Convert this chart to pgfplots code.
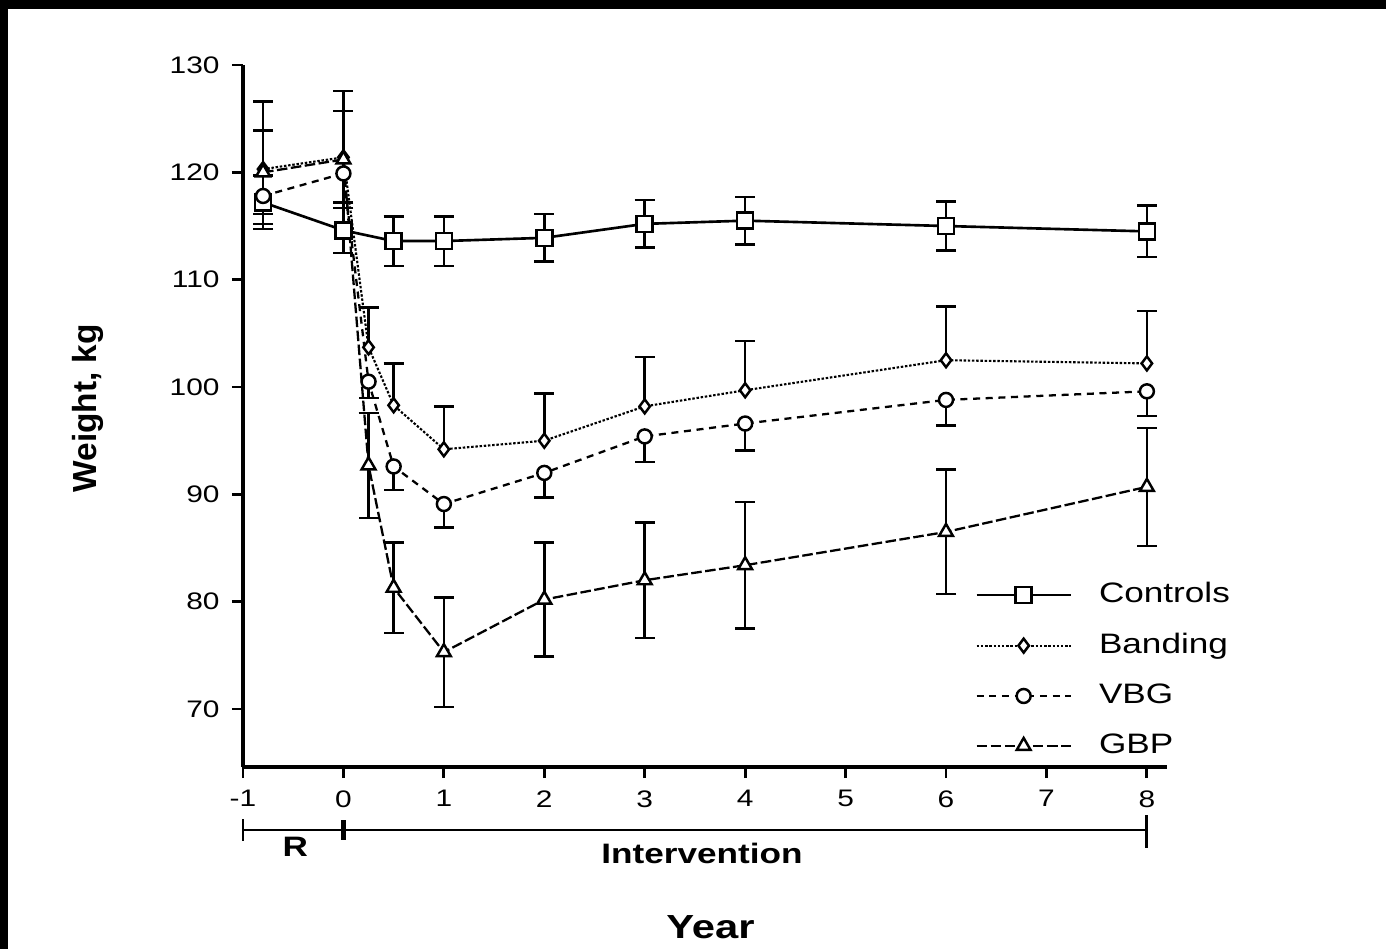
\documentclass[border=0pt]{standalone}
\usepackage{fontspec}
\setmainfont{Liberation Sans}
\newfontfamily\wide{Liberation Sans}[FakeStretch=1.25]
\newfontfamily\plain{Liberation Sans}
\usepackage{pgfplots}
\pgfplotsset{compat=1.18}

\begin{document}
\begin{tikzpicture}
  % page = 1386 x 949 px at 0.01cm per px, axis corner at px (243,767)
  \useasboundingbox (-2.43,-1.82) rectangle (11.43,7.67);
  \begin{axis}[
      scale only axis,
      width=9.24cm, height=7.02cm,
      xmin=-1, xmax=8.2,
      ymin=64.6, ymax=130,
      axis lines*=left,
      axis line style={line width=0.9pt},
      tick align=outside,
      major tick length=0.11cm,
      tick style={line width=0.8pt, black},
      xtick={-1,0,...,8},
      ytick={70,80,...,130},
      /pgf/number format/assume math mode=true,
      tick label style={font=\wide\fontsize{6.8}{8}\selectfont},
      ylabel={Weight, kg},
      ylabel style={font=\plain\bfseries\fontsize{9.5}{11}\selectfont,
                    at={(axis description cs:-0.168,0.511)}, anchor=center},
      xlabel={Year},
      xlabel style={font=\wide\bfseries\fontsize{9.5}{11}\selectfont,
                    at={(axis description cs:0.506,-0.228)}, anchor=center},
      clip=false,
      legend cell align=left,
      legend image code/.code={%
        \draw[mark repeat=2,mark phase=2,#1]
          plot coordinates {(0cm,0cm) (0.47cm,0cm) (0.94cm,0cm)};},
      legend style={at={(axis cs:6.18,83.2)}, anchor=north west,
                    draw=none, fill=none,
                    font=\wide\fontsize{8}{9.6}\selectfont,
                    row sep=0.11cm, column sep=0.2cm},
      every axis plot/.append style={
        error bars/error bar style={line width=0.7pt, solid},
        error bars/error mark options={rotate=90, mark size=0.1cm, line width=0.7pt, solid}},
    ]

    % Controls
    \addplot[black, line width=0.75pt, mark=square*, mark size=0.08cm,
             mark options={fill=white, solid, line width=0.7pt},
             error bars/.cd, y dir=both, y explicit]
      coordinates {
        (-0.8,117.2) +- (0,2.5)
        (0,114.6)    +- (0,2.1)
        (0.5,113.6)  +- (0,2.3)
        (1,113.6)    +- (0,2.3)
        (2,113.9)    +- (0,2.2)
        (3,115.2)    +- (0,2.2)
        (4,115.5)    +- (0,2.2)
        (6,115.0)    +- (0,2.3)
        (8,114.5)    +- (0,2.4)
      };
    \addlegendentry{Controls}

    % Banding
    \addplot[black, line width=0.6pt, dash pattern=on 0.7pt off 0.5pt,
             mark=diamond*, mark size=0.07cm,
             mark options={fill=white, solid, line width=0.7pt},
             error bars/.cd, y dir=plus, y explicit]
      coordinates {
        (-0.8,120.3) +- (0,6.3)
        (0,121.4)    +- (0,6.2)
        (0.25,103.7) +- (0,3.7)
        (0.5,98.3)   +- (0,3.9)
        (1,94.2)     +- (0,4.0)
        (2,95.0)     +- (0,4.4)
        (3,98.2)     +- (0,4.6)
        (4,99.7)     +- (0,4.6)
        (6,102.5)    +- (0,5.0)
        (8,102.2)    +- (0,4.9)
      };
    \addlegendentry{Banding}

    % VBG
    \addplot[black, line width=0.65pt, dash pattern=on 2pt off 1.6pt,
             mark=*, mark size=0.07cm,
             mark options={fill=white, solid, line width=0.7pt},
             error bars/.cd, y dir=minus, y explicit]
      coordinates {
        (-0.8,117.8) +- (0,2.6)
        (0,119.9)    +- (0,2.7)
        (0.25,100.5) +- (0,1.5)
        (0.5,92.6)   +- (0,2.2)
        (1,89.1)     +- (0,2.2)
        (2,92.0)     +- (0,2.3)
        (3,95.4)     +- (0,2.4)
        (4,96.6)     +- (0,2.5)
        (6,98.8)     +- (0,2.4)
        (8,99.6)     +- (0,2.3)
      };
    \addlegendentry{VBG}

    % GBP
    \addplot[black, line width=0.65pt, dash pattern=on 3pt off 1pt,
             mark=triangle*, mark size=0.08cm,
             mark options={fill=white, solid, line width=0.7pt},
             error bars/.cd, y dir=both, y explicit]
      coordinates {
        (-0.8,120.0) +- (0,3.9)
        (0,121.2)    +- (0,4.5)
        (0.25,92.7)  +- (0,4.9)
        (0.5,81.3)   +- (0,4.2)
        (1,75.3)     +- (0,5.1)
        (2,80.2)     +- (0,5.3)
        (3,82.0)     +- (0,5.4)
        (4,83.4)     +- (0,5.9)
        (6,86.5)     +- (0,5.8)
        (8,90.7)     +- (0,5.5)
      };
    \addlegendentry{GBP}

    % study period bar below the axis
    \draw[line width=0.8pt] ([yshift=-0.63cm]axis cs:-1,64.6) -- ([yshift=-0.63cm]axis cs:8,64.6);
    \draw[line width=0.8pt] ([yshift=-0.52cm]axis cs:-1,64.6) -- ([yshift=-0.74cm]axis cs:-1,64.6);
    \draw[line width=1.5pt] ([yshift=-0.53cm]axis cs:0,64.6) -- ([yshift=-0.73cm]axis cs:0,64.6);
    \draw[line width=0.8pt] ([yshift=-0.48cm]axis cs:8,64.6) -- ([yshift=-0.81cm]axis cs:8,64.6);
    \node[font=\wide\bfseries\fontsize{8}{9}\selectfont] at ([yshift=-0.80cm]axis cs:-0.48,64.6) {R};
    \node[font=\wide\bfseries\fontsize{8}{9}\selectfont] at ([yshift=-0.86cm]axis cs:3.57,64.6) {Intervention};
  \end{axis}
  % dark scan edges
  \fill[black] (-2.43,7.58) rectangle (11.43,7.67);
  \fill[black] (-2.43,-1.82) rectangle (-2.35,7.67);
\end{tikzpicture}
\end{document}
